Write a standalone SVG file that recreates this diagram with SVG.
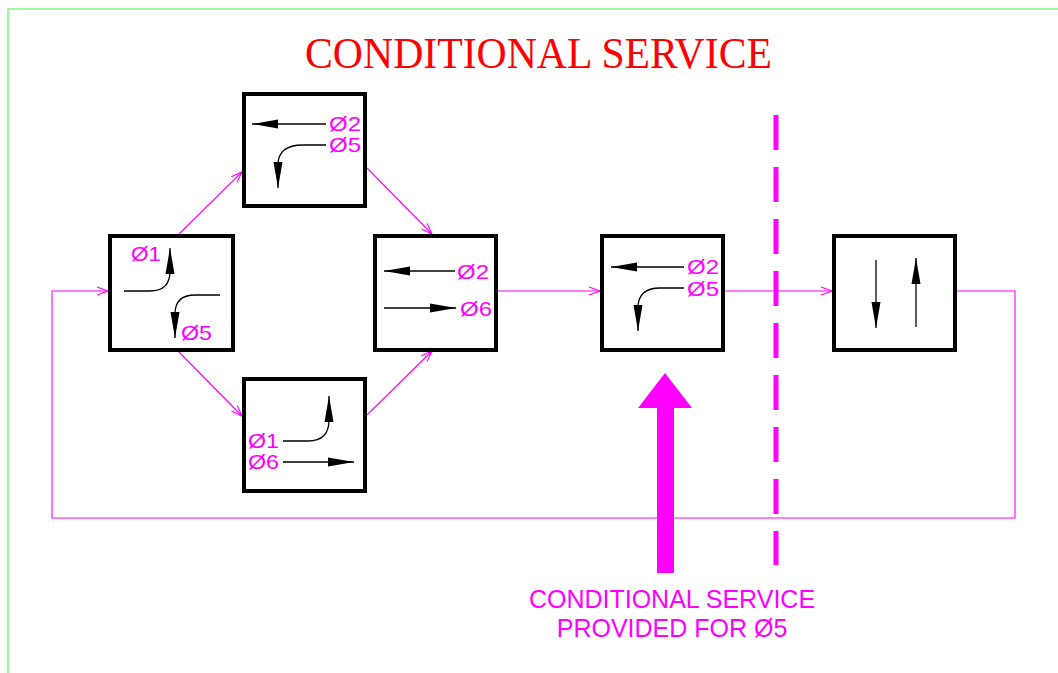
<svg xmlns="http://www.w3.org/2000/svg" width="1058" height="673" viewBox="0 0 1058 673">
<defs>
<style>
.box{fill:#fff;stroke:#000;stroke-width:4}
.mv{fill:none;stroke:#FF00FF;stroke-width:1.1}
.blk{fill:none;stroke:#000;stroke-width:1.3}
.lbl{font-family:"Liberation Sans",Arial,sans-serif;font-size:21px;fill:#FF00FF}
</style>
<marker id="ba" markerUnits="userSpaceOnUse" markerWidth="30" markerHeight="12" refX="26" refY="0" viewBox="0 -6 30 12" orient="auto" overflow="visible">
<path d="M0,-4.5 L26,0 L0,4.5 z" fill="#000"/>
</marker>
<marker id="ma" markerUnits="userSpaceOnUse" markerWidth="12" markerHeight="10" refX="11" refY="0" viewBox="0 -5 12 10" orient="auto" overflow="visible">
<path d="M0,-4 L11,0 L0,4" fill="none" stroke="#FF00FF" stroke-width="1.1"/>
</marker>
</defs>
<rect width="1058" height="673" fill="#fff"/>
<path d="M8,673 L8,9 L1058,9" fill="none" stroke="#80FF80" stroke-width="1.6"/>
<text x="305" y="68" textLength="467" lengthAdjust="spacingAndGlyphs" font-family="Liberation Serif,Times New Roman,serif" font-size="45" fill="#FF0000">CONDITIONAL SERVICE</text>

<g id="connectors">
<path class="mv" d="M178,235 L242,172" marker-end="url(#ma)"/>
<path class="mv" d="M178,351 L242,416" marker-end="url(#ma)"/>
<path class="mv" d="M367,168 L432,234" marker-end="url(#ma)"/>
<path class="mv" d="M367,415 L432,351" marker-end="url(#ma)"/>
<path class="mv" d="M498,291 L600,291" marker-end="url(#ma)"/>
<path class="mv" d="M725,291 L832,291" marker-end="url(#ma)"/>
<path class="mv" d="M957,291 L1015,291 L1015,518 L52,518 L52,291 L108,291" marker-end="url(#ma)"/>
</g>

<g id="nodeA">
<rect class="box" x="110" y="236" width="123" height="114"/>
<path class="blk" d="M124,291 L150,291 Q170,291 170,271 L170,248" marker-end="url(#ba)"/>
<path class="blk" d="M220,295 L195,295 Q175,295 175,314 L175,338" marker-end="url(#ba)"/>
<text class="lbl" x="131" y="261" textLength="30" lengthAdjust="spacingAndGlyphs">Ø1</text>
<text class="lbl" x="181" y="340" textLength="31" lengthAdjust="spacingAndGlyphs">Ø5</text>
</g>

<g id="nodeB">
<rect class="box" x="244" y="94" width="121" height="112"/>
<path class="blk" d="M326,124 L252,124" marker-end="url(#ba)"/>
<path class="blk" d="M326,145 L303,145 Q278,145 278,165 L278,188" marker-end="url(#ba)"/>
<text class="lbl" x="329" y="131" textLength="32" lengthAdjust="spacingAndGlyphs">Ø2</text>
<text class="lbl" x="329" y="152" textLength="32" lengthAdjust="spacingAndGlyphs">Ø5</text>
</g>

<g id="nodeC">
<rect class="box" x="244" y="379" width="121" height="112"/>
<path class="blk" d="M283,441 L308,441 Q329,441 329,420 L329,396" marker-end="url(#ba)"/>
<path class="blk" d="M283,462 L354,462" marker-end="url(#ba)"/>
<text class="lbl" x="248" y="448" textLength="31" lengthAdjust="spacingAndGlyphs">Ø1</text>
<text class="lbl" x="248" y="469" textLength="31" lengthAdjust="spacingAndGlyphs">Ø6</text>
</g>

<g id="nodeD">
<rect class="box" x="375" y="236" width="121" height="114"/>
<path class="blk" d="M455,271 L384,271" marker-end="url(#ba)"/>
<path class="blk" d="M384,308 L456,308" marker-end="url(#ba)"/>
<text class="lbl" x="457" y="279" textLength="32" lengthAdjust="spacingAndGlyphs">Ø2</text>
<text class="lbl" x="460" y="316" textLength="32" lengthAdjust="spacingAndGlyphs">Ø6</text>
</g>

<g id="nodeE">
<rect class="box" x="602" y="236" width="121" height="114"/>
<path class="blk" d="M684,267 L611,267" marker-end="url(#ba)"/>
<path class="blk" d="M684,288 L660,288 Q638,288 638,308 L638,331" marker-end="url(#ba)"/>
<text class="lbl" x="687" y="274" textLength="32" lengthAdjust="spacingAndGlyphs">Ø2</text>
<text class="lbl" x="687" y="296" textLength="32" lengthAdjust="spacingAndGlyphs">Ø5</text>
</g>

<g id="nodeF">
<rect class="box" x="834" y="236" width="121" height="114"/>
<path class="blk" d="M876,260 L876,328" marker-end="url(#ba)"/>
<path class="blk" d="M916,327 L916,258" marker-end="url(#ba)"/>
</g>

<g id="divider">
<line x1="776" y1="115" x2="776" y2="565" stroke="#FF00FF" stroke-width="5" stroke-dasharray="35 17"/>
</g>

<g id="callout">
<rect x="657" y="407" width="17" height="166" fill="#FF00FF"/>
<polygon points="638,408 692,408 665,373" fill="#FF00FF"/>
<text x="672" y="608" text-anchor="middle" font-family="Liberation Sans,Arial,sans-serif" font-size="25" fill="#FF00FF">CONDITIONAL SERVICE</text>
<text x="672" y="637" text-anchor="middle" font-family="Liberation Sans,Arial,sans-serif" font-size="25" fill="#FF00FF">PROVIDED FOR Ø5</text>
</g>
</svg>
